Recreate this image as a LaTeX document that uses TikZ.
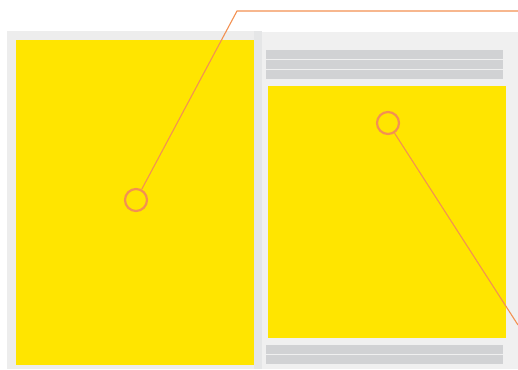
\documentclass[tikz,border=0pt]{standalone}
\usepackage{xcolor}
\usetikzlibrary{calc,positioning}
\definecolor{Sheet}{HTML}{F0F0F0}
\definecolor{SheetL}{HTML}{EDEDED}
\definecolor{Fold}{HTML}{E5E6E7}
\definecolor{Picture}{HTML}{FFE500}
\definecolor{TextLine}{HTML}{D1D2D4}
\definecolor{Callout}{HTML}{F39152}

\begin{document}
\begin{tikzpicture}[
  x=1pt,y=-1pt,
  sheet/.style={fill=Sheet},
  photo/.style={fill=Picture},
  textline/.style={fill=TextLine},
  lens/.style={circle,draw=Callout,line width=2.2pt,minimum size=22pt,inner sep=0pt},
  callout/.style={Callout,line width=1.1pt}
]
\useasboundingbox (0,0) rectangle (518,369);

% left page
\fill[SheetL] (7,31) rectangle (262,369);
\fill[Fold] (254,31) rectangle (262,369);
\fill[photo] (16,40) rectangle (254,365);

% right page
\fill[sheet] (262,32) rectangle (518,369);
\foreach \y in {50,60,70} {
  \fill[textline] (266,\y) rectangle (503,\y+9);
}
\fill[photo] (268,86) rectangle (506,338);
\foreach \y in {345,355} {
  \fill[textline] (266,\y) rectangle (503,\y+9);
}

% callouts
\node[lens] (lensA) at (136,200) {};
\node[lens] (lensB) at (388,123) {};
\coordinate (kneeA) at (237,11);
\coordinate (endA) at (518,11);
\coordinate (endB) at (518,325);
\draw[callout] (lensA) -- (kneeA) -- (endA);
\draw[callout] (lensB) -- (endB);
\end{tikzpicture}
\end{document}
